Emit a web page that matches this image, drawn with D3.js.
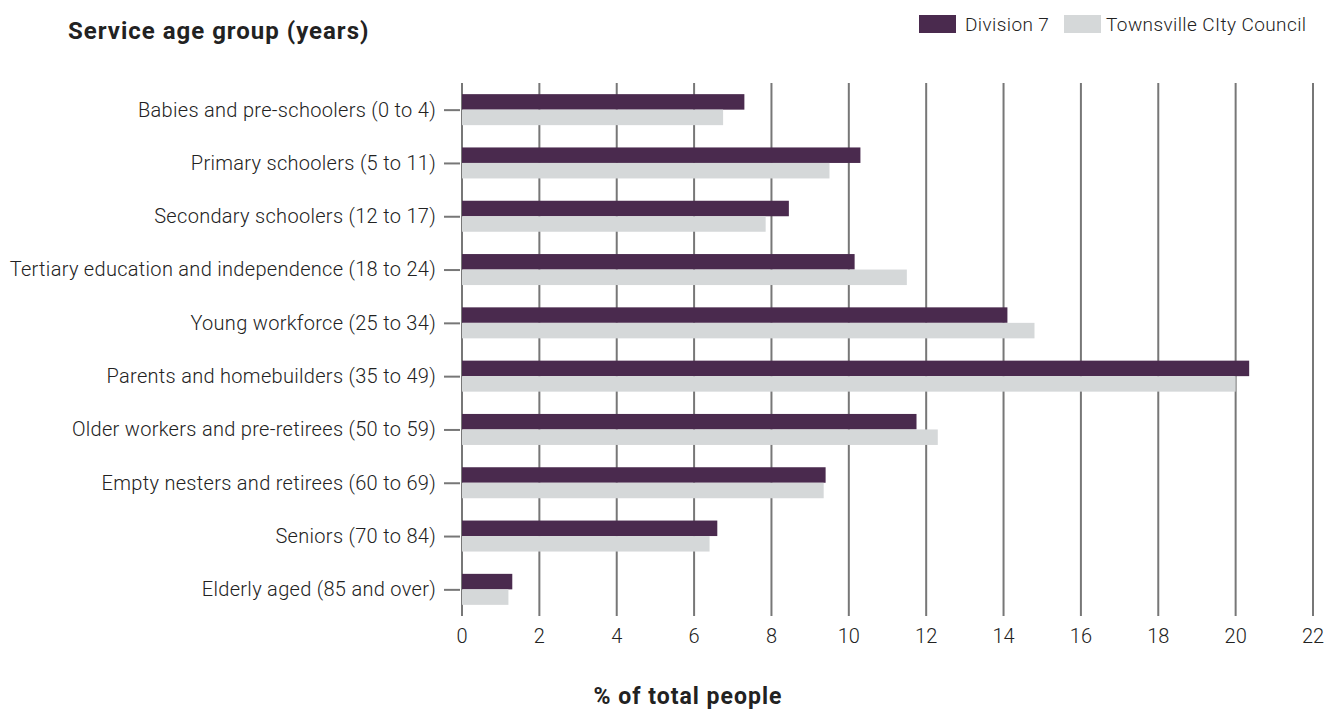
<!DOCTYPE html>
<html>
<head>
<meta charset="utf-8">
<script src="https://cdn.jsdelivr.net/npm/d3@7"></script>
<style>
  body { margin: 0; background: #fff; }
  text { font-family: Roboto, "Noto Sans", sans-serif; fill: #222; }
</style>
</head>
<body>
<div id="chart"></div>
<script>
// Data
const categories = [
    "Babies and pre-schoolers (0 to 4)",
    "Primary schoolers (5 to 11)",
    "Secondary schoolers (12 to 17)",
    "Tertiary education and independence (18 to 24)",
    "Young workforce (25 to 34)",
    "Parents and homebuilders (35 to 49)",
    "Older workers and pre-retirees (50 to 59)",
    "Empty nesters and retirees (60 to 69)",
    "Seniors (70 to 84)",
    "Elderly aged (85 and over)"
];
const division7 = [7.3, 10.3, 8.45, 10.15, 14.1, 20.35, 11.75, 9.4, 6.6, 1.3];
const townsville = [6.75, 9.5, 7.85, 11.5, 14.8, 20.0, 12.3, 9.35, 6.4, 1.2];
const seriesNames = ["Division 7", "Townsville CIty Council"];
const xTicks = [0, 2, 4, 6, 8, 10, 12, 14, 16, 18, 20, 22];

function createBarChart() {
    const width = 1340, height = 709;
    const left = 462, right = 1313, top = 83, bottom = 616;
    const colors = ["#4a2a4e", "#d5d8d9"];

    const svg = d3.select("#chart")
        .append("svg")
        .attr("width", width)
        .attr("height", height);

    const x = d3.scaleLinear().domain([0, 22]).range([left, right]);
    const y = d3.scalePoint().domain(categories).range([top, bottom]).padding(0.5);
    const barH = 15.5;

    // Vertical grid lines (behind bars)
    svg.append("g")
        .selectAll("line")
        .data(xTicks)
        .enter().append("line")
        .attr("x1", d => x(d))
        .attr("x2", d => x(d))
        .attr("y1", top)
        .attr("y2", bottom)
        .attr("stroke", "#777")
        .attr("stroke-width", 2);

    // Bars
    const groups = svg.append("g")
        .selectAll("g")
        .data(categories)
        .enter().append("g");

    groups.append("rect")
        .attr("x", x(0))
        .attr("y", d => y(d) - barH)
        .attr("width", (d, i) => x(division7[i]) - x(0))
        .attr("height", barH)
        .attr("fill", colors[0]);

    groups.append("rect")
        .attr("x", x(0))
        .attr("y", d => y(d))
        .attr("width", (d, i) => x(townsville[i]) - x(0))
        .attr("height", barH)
        .attr("fill", colors[1]);

    // Y axis: labels and tick stubs
    const yAxis = svg.append("g")
        .attr("transform", `translate(${left - 2},0)`)
        .call(d3.axisLeft(y).tickSize(16).tickPadding(8));
    yAxis.select(".domain").remove();
    yAxis.selectAll(".tick line").attr("stroke", "#777").attr("stroke-width", 2);
    yAxis.selectAll(".tick text")
        .style("font-size", "20px")
        .style("font-weight", 300)
        .style("letter-spacing", "0.3px")
        .attr("fill", "#222");

    // X axis tick labels
    svg.append("g")
        .selectAll("text")
        .data(xTicks)
        .enter().append("text")
        .attr("x", d => x(d))
        .attr("y", 643)
        .attr("text-anchor", "middle")
        .style("font-size", "20px")
        .style("font-weight", 300)
        .text(d => d);

    // Axis title
    svg.append("text")
        .attr("x", 688)
        .attr("y", 704)
        .attr("text-anchor", "middle")
        .style("font-size", "23px")
        .style("font-weight", 700)
        .style("letter-spacing", "1px")
        .text("% of total people");

    // Chart title
    svg.append("text")
        .attr("x", 68)
        .attr("y", 39)
        .style("font-size", "24px")
        .style("font-weight", 700)
        .style("letter-spacing", "1px")
        .text("Service age group (years)");

    // Legend
    const legendX = [919, 1064];
    const legend = svg.selectAll(".legend")
        .data(seriesNames)
        .enter().append("g")
        .attr("class", "legend")
        .attr("transform", (d, i) => `translate(${legendX[i]},15)`);

    legend.append("rect")
        .attr("width", 37)
        .attr("height", 18)
        .attr("fill", (d, i) => colors[i]);

    legend.append("text")
        .attr("x", (d, i) => i === 0 ? 46 : 42)
        .attr("y", 16)
        .style("font-size", "19px")
        .style("font-weight", 300)
        .style("letter-spacing", "0.4px")
        .text(d => d);
}

createBarChart();
</script>
</body>
</html>
